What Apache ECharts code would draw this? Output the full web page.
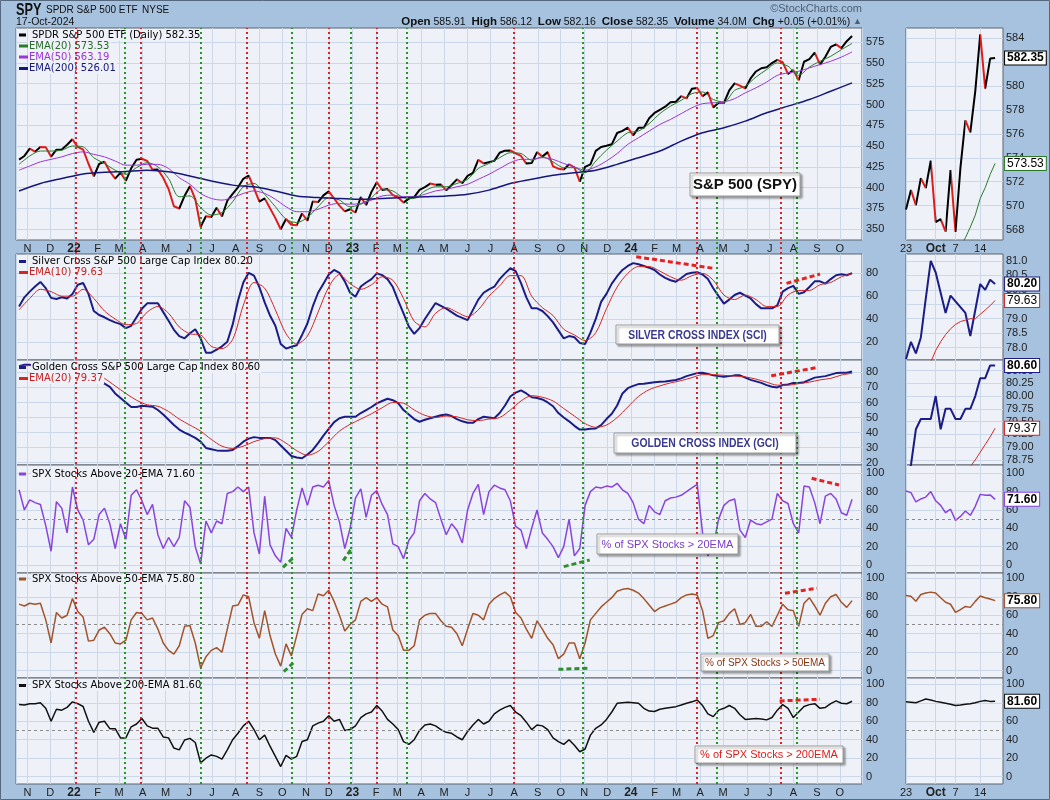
<!DOCTYPE html>
<html><head><meta charset="utf-8">
<script src="https://cdn.jsdelivr.net/npm/echarts@6/dist/echarts.min.js"></script>
<style>html,body{margin:0;padding:0;background:#a7c2de}#c{width:1050px;height:800px}</style>
</head><body><div id="c"></div>
<script>
// ---------- DATA (weekly samples, Thursdays from 2021-10-21) ----------
const weekStart = '2021-10-21';
const spy = [433.6,438.1,446.8,443.3,449.0,448.7,437.2,445.7,445.9,451.5,
458.1,448.9,445.6,428.7,413.7,428.5,431.1,419.4,410.9,418.0,
408.2,423.2,433.6,434.7,432.0,421.4,421.7,411.8,398.3,377.6,
374.9,390.1,401.7,386.3,352.9,365.5,364.7,375.8,365.3,384.2,
392.6,400.4,410.6,414.6,399.5,383.2,387.1,375.1,363.3,349.9,
362.3,355.3,354.8,368.9,360.2,383.2,382.7,390.7,395.5,386.9,
378.3,371.4,374.0,370.1,388.7,379.1,394.9,406.6,397.1,398.3,
390.9,388.1,382.0,386.8,388.6,397.3,400.7,404.9,403.4,403.9,
396.7,403.1,409.9,405.5,414.2,417.8,433.4,429.1,430.7,432.2,
442.0,444.5,444.8,441.2,438.1,428.9,429.5,442.7,437.3,442.7,
425.6,422.8,421.8,427.9,424.4,407.1,425.0,428.0,444.2,448.9,
450.3,452.1,465.7,468.3,472.2,462.9,471.9,472.0,483.4,489.8,
493.6,497.3,502.7,503.3,510.0,507.4,518.9,519.8,509.9,514.7,
496.4,502.2,501.8,516.9,525.4,522.6,519.3,531.3,539.7,543.6,
544.7,549.8,553.6,551.0,536.7,541.3,529.1,551.4,554.5,562.3,
547.9,557.4,569.2,572.3,567.8,576.1,582.35];
// EMA lines sampled every 2 weeks (ema200 every 4 weeks)
const ema20 = [428,438,444,444,445,450,449,436,429,421,416,424,430,425,411,389,390,376,367,370,383,401,405,392,377,362,358,364,377,388,385,377,380,388,398,396,388,387,396,401,401,405,410,423,429,436,442,441,433,437,431,424,424,418,432,445,456,466,468,477,489,498,505,513,515,506,503,517,522,533,542,550,546,535,545,552,558,566,573.5];
const ema50 = [421,426,431,434,437,441,443,440,437,432,427,427,428,428,423,412,404,393,387,385,388,393,396,393,386,377,371,371,374,379,381,380,381,385,390,391,389,389,392,396,398,401,404,410,416,423,430,434,434,436,434,429,425,421,425,432,441,452,460,468,476,482,489,496,501,502,503,507,514,520,527,535,538,540,544,548,552,557,563.2];
const ema200 = [396,405,411,416.5,418.5,419.5,421,419,414,408,403,401,396,390,388,387,386,387,388,389,390,392,397,405,410,415,418,421,428,436,444,456,466,472,480,490,498,506,516,526];
const sci = [51,59,64,68.5,72.5,67,58.5,57.5,59,58,
62,70,71.5,62,47,43.5,41.5,39,37,35.5,
32,34,41.5,49,53.7,53.7,53.7,46,38.5,30.5,
25,23,27.5,31,23,10.4,10.4,13,16,20,
35,56,72,80.5,78,68,54.5,43,34,18,
14,15.6,17,26,36,51,63,71,79,83,
80.5,73,63,59.5,68.5,72,75,80,78.5,75,
68,56,45,33.2,27,32,40,47,54,51.5,
49,46,43,41,39,48,57,63,66,68.3,
75,80,84.5,82,71.5,59,49.3,49.3,47,42.5,
37,30,23,25,24,19,18,28,40,55,
62,71,77.5,83,86.5,89,88,86.5,85,83,
79,76,74,72.6,76,79.5,80.5,81,79,75,
67,60,53.5,57,61,63,60.5,58,53,49.3,
49.3,49.3,52,64,67,69,62,63.5,68,73,
73,71,75,78.4,79.2,78.4,80.2];
const sciEma10 = [48,58,66,64,60,60,66,58,47,40,35,36,46,51,45,33,27,26,16,14,22,52,72,67,48,27,18,25,46,68,79,71,66,70,77,74,58,38,33,45,50,46,42,48,60,69,78,78,60,50,43,31,26,21,28,49,68,80,86,86,82,77,74,78,80,74,61,57,61,57,51,51,61,65,65,70,72,77,79.63];
const gci = [84,85,85,84,84,83,82,82,83,83,
83,82,81,79,77,75,72.5,70.4,66,63,
60,57,57,57.8,57.5,57.2,55,52,48.5,45,
42,40,38.4,36.5,34,29.8,29,28.2,28,28,
28.5,31,34,36,37,36.5,36.5,36.5,35,31.5,
28,24.5,23.5,23,25.5,28.5,33,38,42.5,47,
49.5,50.5,50.5,50.5,53,55,57,59.4,61,62.5,
61.5,59.5,55,52,49,47.2,48.5,49.5,50.5,51.5,
52,51,49,47.5,46.5,46.5,49,50.5,50,49.5,
53,58,64,66.5,68,66,63.5,63,62,60,
57.5,53,50,47.5,44.5,42,42,42.5,42.8,45,
49,52.5,58,66,69.5,71,72.2,72.5,73,73.5,
73.8,74,74.5,74.9,76,77.5,78.5,79.5,79.7,79,
78,77.5,77,77.5,78,78,76.5,75,74,73,
71.5,70.5,70,71.6,72,73,73,73.5,75,76.5,
77,77.5,78.5,79.5,79.8,79.8,80.6];
const gciEma20 = [84,84.5,84.5,83.5,83,83,82,79.5,76,71,66,61.5,58.5,57.5,54,49,45,41,35.5,31,29.5,31,34,36,36.5,33,28,25,27.5,34,41,45.5,49,52.5,56.5,60,59.5,55,51.5,50,51,50.5,48.5,48,49,50,55,61,64.5,63.5,61,56,51,46,43.5,45,50,57,64,68.5,71,73,74.5,76.5,78.5,78.5,78,77.5,77,75.5,73.5,71.5,71.5,72.5,73.5,75,76,78.2,79.37];
const pct20 = [82,60,71,68,66,43,15,69,62,35,
85,60,49,22,28,55,62,45,18,45,
28,76,82,70,55,66,33,18,30,20,
30,70,63,20,1,48,35,48,45,78,
80,85,80,85,35,12,75,22,10,3,
40,30,60,84,65,85,87,85,92,65,
47,18,40,73,83,52,76,81,66,55,
23,20,7,27,35,70,78,72,68,50,
33,45,38,24,60,78,88,55,80,87,
84,82,70,42,38,18,40,60,35,28,
20,8,20,50,10,18,65,80,85,84,
86,85,89,82,78,68,50,45,65,58,
55,70,73,74,76,80,84,88,35,10,
20,50,65,70,72,38,30,49,45,44,
47,50,78,70,67,45,35,86,85,68,
45,75,78,72,57,54.2,71.6];
const pct50 = [72,70,73,72,73,55,30,63,57,60,
78,64,58,32,33,44,47,40,30,29,
33,55,63,62,55,57,45,30,22,18,
27,48,49,30,3,15,22,25,20,45,
70,71,82,80,52,35,65,38,18,5,
29,16,38,61,67,65,83,81,87,75,
60,43,50,55,75,79,75,79,72,69,
44,38,22,22,27,55,60,62,62,54,
48,47,40,27,45,62,60,55,72,78,
82,85,80,63,57,45,35,54,45,35,
28,13,18,30,30,13,30,55,62,69,
74,79,86,88,89,87,84,78,71,64,
68,70,72,74,79,82,83,82,65,35,
38,52,54,62,67,50,52,61,48,48,
53,48,60,72,66,65,48,73,79,70,
60,73,80,82.5,74,68.5,75.8];
const pct200 = [78,77.5,79,79,80,74,60,73,72,75,
81,79,76,60,48,59,60,52,52,42,
42,54,57,63,55,52.5,52.4,43,42,31,
29,39.7,41.5,37,15,20,23.5,22,19,29,
40,47,55,60,51,40,45,33,22,11,
23,19,22,38,40,55,58,60,66,60,
62,50,51,55,64,68,70,77,71,62,
57,51,38,35,40,50,56,57,55,51,
48,47,43,40,49,56,62,57,60,68,
72,75,77,70,66,59,51,56,55,51,
42,38,35,40,34,27,30,45,52.4,56,
62,70,79.4,80,80.5,80,79.4,74,71,70.5,
73,74,75,75.8,77.5,79.4,81,83,77,68,
65,72,74,77,74,67,62,62.5,63,62.5,
61.5,64,72,78,74,64,70,76,78,79,
74,75,79,82,79.5,79,81.6];

// ---------- small right panels: daily, 2024-09-23 .. 2024-10-17 ----------
const smallDays = ['09-23','09-24','09-25','09-26','09-27','09-30','10-01','10-02','10-03','10-04','10-07','10-08','10-09','10-10','10-11','10-14','10-15','10-16','10-17'];
const smallSpy = [569.67,571.30,570.04,572.30,571.47,573.76,568.62,568.86,567.82,572.98,567.80,573.17,577.14,576.13,579.58,584.32,579.78,582.30,582.35];
const smallEma20 = [562.0,562.9,563.6,564.4,565.0,565.4,565.6,565.8,565.9,566.1,566.2,566.6,567.3,568.2,569.2,570.6,571.5,572.6,573.53];
const smallSci = [77.6,78.2,77.8,78.35,79.7,81.0,80.6,79.9,79.2,79.8,79.6,79.4,79.2,78.4,79.3,80.2,80.0,80.35,80.2];
const smallSciEma10 = [76.3,76.6,76.8,77.1,77.3,77.5,77.9,78.2,78.45,78.65,78.8,78.9,78.95,79.0,79.0,79.15,79.3,79.45,79.63];
const smallGci = [78.3,78.65,79.35,79.55,79.55,79.55,80.0,79.35,79.75,79.75,79.55,79.55,79.75,79.75,80.0,80.35,80.35,80.6,80.6];
const smallGciEma20 = [77.6,77.7,77.8,77.9,78.0,78.05,78.1,78.15,78.2,78.25,78.3,78.4,78.5,78.62,78.75,78.9,79.05,79.2,79.37];
const smallPct20 = [80.6,78.9,68.7,72,74,80,70,65,57,60.8,48.7,53,58.9,54.2,64,77,76,76.4,71.6];
const smallPct50 = [81.4,80.6,75.2,82.5,84,85,84,79,74,71.9,63,66,69.5,68.5,75,80.8,79,77.5,75.8];
const smallPct200 = [81,80.5,80,82,84,83,81.5,80.5,79.5,78.5,77,77.5,78.5,79,80,81.5,82.5,81.5,81.6];
const smallTickIdx = [0,6,10,15];
const smallTickText = ['23','Oct','7','14'];

// ---------- signal lines and trendlines ----------
const redSignals = ['2022-01-03','2022-03-29','2022-08-16','2022-12-01','2023-02-02','2023-07-31','2024-03-28','2024-07-15'];
const greenSignals = ['2022-03-08','2022-06-16','2022-10-13','2022-12-30','2023-03-13','2023-10-30','2024-04-22','2024-08-05'];
const sciRedTrends = [[['2024-01-08',94.6],['2024-04-19',84.4]],[['2024-07-23',71.2],['2024-09-05',79.4]]];
const gciRedTrends = [[['2024-07-03',77.7],['2024-09-02',83.3]]];
const pct20GreenTrends = [[['2022-10-02',-2.5],['2022-10-17',9]],[['2022-12-20',4.7],['2023-01-01',19.3]],[['2023-10-05',-1.8],['2023-11-08',5.5]]];
const pct20RedTrends = [[['2024-08-25',94.5],['2024-09-30',87.2]]];
const pct50GreenTrends = [[['2022-10-03',-1.1],['2022-10-17',9.7]],[['2023-09-28',1.5],['2023-11-05',2.6]]];
const pct50RedTrends = [[['2024-07-21',83.8],['2024-09-01',89.2]]];
const pct200RedTrends = [[['2024-07-14',82],['2024-09-05',83.8]]];

// ---------- tick labels ----------
const spyTicks = [350,375,400,425,450,475,500,525,550,575];
const sciTicks = [20,40,60,80];
const gciTicks = [20,30,40,50,60,70,80];
const pctTicks = [0,20,40,60,80,100];
const smallSpyTicks = [568,570,572,574,576,578,580,582,584];
const smallSciTicks = [78.0,78.5,79.0,79.5,80.0,80.5,81.0];
const smallGciTicks = [78.75,79.00,79.25,79.50,79.75,80.00,80.25,80.50];
const monthLetters = ['J','F','M','A','M','J','J','A','S','O','N','D'];

// ---------- build ----------
const DAY = 86400000;
const T0 = Date.parse('2021-10-17'), T1 = Date.parse('2024-10-30');
const W0 = Date.parse(weekStart);
const wk = i => W0 + 7 * i * DAY;
const ts = s => Date.parse(s);
const FONT = '"Liberation Sans", Arial, sans-serif';
const gridColor = '#cad8e9';
const panelBg = '#eef2f8';

const panels = [
  {top:28, h:212, min:337, max:592, ticks:spyTicks, dec:0},
  {top:254, h:106, min:4, max:97, ticks:sciTicks, dec:0},
  {top:360, h:105, min:18.5, max:88.2, ticks:gciTicks, dec:0},
  {top:465, h:108, min:-8.7, max:109, ticks:pctTicks, dec:0},
  {top:573, h:105, min:-7.9, max:105.7, ticks:pctTicks, dec:0},
  {top:678, h:106, min:-7.9, max:106.8, ticks:pctTicks, dec:0}
];
const smallY = [
  {min:567.12, max:584.86, ticks:smallSpyTicks, dec:0},
  {min:77.57, max:81.24, ticks:smallSciTicks, dec:1},
  {min:78.65, max:80.706, ticks:smallGciTicks, dec:2},
  {min:-8.7, max:109, ticks:pctTicks, dec:0},
  {min:-7.9, max:105.7, ticks:pctTicks, dec:0},
  {min:-7.9, max:106.8, ticks:pctTicks, dec:0}
];

const grids = [], xAxes = [], yAxes = [];
panels.forEach((p, k) => {
  grids.push({left:16, top:p.top, width:846, height:p.h, show:true, backgroundColor:panelBg, borderColor:'#5c6470', borderWidth:1});
  xAxes.push({type:'time', gridIndex:k, min:T0, max:T1, splitNumber:36, minInterval:28*DAY, maxInterval:31*DAY,
    axisLine:{show:false}, axisTick:{show:false},
    axisLabel:{show:(k===0||k===5), margin:3, color:'#222', fontSize:11, fontFamily:FONT, showMinLabel:false, showMaxLabel:false,
      formatter: v => { const d = new Date(v); const m = d.getMonth(); return m === 0 ? '{y|' + String(d.getFullYear()).slice(2) + '}' : monthLetters[m]; },
      rich:{y:{fontWeight:'bold', fontSize:12, fontFamily:FONT, color:'#222'}}},
    splitLine:{show:true, lineStyle:{color:gridColor, width:1}}});
  yAxes.push({type:'value', gridIndex:k, position:'right', min:p.min, max:p.max,
    axisLine:{show:false}, axisTick:{show:false, customValues:p.ticks},
    axisLabel:{customValues:p.ticks, margin:4, color:'#222', fontSize:11, fontFamily:FONT, formatter: v => v.toFixed(p.dec)},
    splitLine:{show:true, lineStyle:{color:gridColor, width:1}}});
});
panels.forEach((p, k) => {
  const s = smallY[k];
  grids.push({left:906, top:p.top, width:97, height:p.h, show:true, backgroundColor:panelBg, borderColor:'#5c6470', borderWidth:1});
  xAxes.push({type:'value', gridIndex:6+k, min:0, max:19.6,
    axisLine:{show:false}, axisTick:{show:false, customValues:smallTickIdx},
    axisLabel:{show:(k===0||k===5), customValues:smallTickIdx, margin:3, color:'#222', fontSize:11, fontFamily:FONT,
      formatter: v => { const tx = smallTickText[smallTickIdx.indexOf(v)]; return tx === 'Oct' ? '{b|Oct}' : tx; },
      rich:{b:{fontWeight:'bold', fontSize:12, fontFamily:FONT, color:'#222'}}},
    splitLine:{show:true, lineStyle:{color:gridColor, width:1}}});
  yAxes.push({type:'value', gridIndex:6+k, position:'right', min:s.min, max:s.max,
    axisLine:{show:false}, axisTick:{show:false, customValues:s.ticks},
    axisLabel:{customValues:s.ticks, margin:3, color:'#222', fontSize:11, fontFamily:FONT, formatter: v => v.toFixed(s.dec)},
    splitLine:{show:true, lineStyle:{color:gridColor, width:1}}});
});
// overlay grid for vertical signal lines
grids.push({left:16, top:28, width:846, height:756, show:false});
xAxes.push({type:'time', gridIndex:12, min:T0, max:T1, show:false});
yAxes.push({type:'value', gridIndex:12, min:0, max:1, show:false});

const weekly = arr => arr.map((v, i) => [wk(i), v]);
const stepped = (arr, step) => arr.map((v, j) => [wk(j * step), v]);
const daily = arr => arr.map((v, i) => [i, v]);

function line(ax, data, color, width, extra) {
  const o = {type:'line', xAxisIndex:ax, yAxisIndex:ax, data, showSymbol:false, symbol:'none', animation:false, z:3,
    lineStyle:{width}, emphasis:{disabled:true}};
  if (color) { o.lineStyle.color = color; o.itemStyle = {color}; }
  return Object.assign(o, extra || {});
}
function trendItems(segs, color) {
  return segs.map(s => [{coord:[ts(s[0][0]), s[0][1]], lineStyle:{color, width:3, type:[5,3]}}, {coord:[ts(s[1][0]), s[1][1]]}]);
}
const halfLine = {yAxis:50, lineStyle:{color:'#8a8a8a', type:[3,3], width:1}};
function mk(items) { return {silent:true, symbol:['none','none'], label:{show:false}, animation:false, data:items}; }
function tag(border, bold) {
  return {show:true, distance:10, color:'#000', fontSize:12, fontWeight: bold ? 'bold' : 'normal', fontFamily:FONT,
    backgroundColor:'#fff', borderColor:border, borderWidth:1, padding:[1,2,0,2],
    formatter: p => p.value[1].toFixed(2)};
}
const RED = '#e42222', GREEN = '#2f8f2f';

const series = [
  line(0, weekly(spy), null, 2),                                          // 0
  line(0, stepped(ema20, 2), '#2a7a2a', 1, {smooth:0.3}),                 // 1
  line(0, stepped(ema50, 2), '#9a36d6', 1, {smooth:0.3}),                 // 2
  line(0, stepped(ema200, 4), '#16167c', 1.5, {smooth:0.3}),              // 3
  line(1, weekly(sci), '#1c1c86', 2, {markLine: mk(trendItems(sciRedTrends, RED))}),   // 4
  line(1, stepped(sciEma10, 2), '#d42626', 1, {smooth:0.3}),              // 5
  line(2, weekly(gci), '#1c1c86', 2, {markLine: mk(trendItems(gciRedTrends, RED))}),   // 6
  line(2, stepped(gciEma20, 2), '#d42626', 1, {smooth:0.3}),              // 7
  line(3, weekly(pct20), '#8a44de', 1.5, {markLine: mk([halfLine].concat(trendItems(pct20GreenTrends, GREEN), trendItems(pct20RedTrends, RED)))}), // 8
  line(4, weekly(pct50), '#a2532b', 1.5, {markLine: mk([halfLine].concat(trendItems(pct50GreenTrends, GREEN), trendItems(pct50RedTrends, RED)))}), // 9
  line(5, weekly(pct200), '#111111', 1.5, {markLine: mk([halfLine].concat(trendItems(pct200RedTrends, RED)))}), // 10
  line(6, daily(smallSpy), null, 2, {endLabel: tag('#000', true)}),       // 11
  line(6, daily(smallEma20), '#2a7a2a', 1, {endLabel: tag('#2a7a2a', false)}),
  line(7, daily(smallSci), '#1c1c86', 2, {endLabel: tag('#1c1c86', true)}),
  line(7, daily(smallSciEma10), '#d42626', 1, {endLabel: tag('#d42626', false)}),
  line(8, daily(smallGci), '#1c1c86', 2, {endLabel: tag('#1c1c86', true)}),
  line(8, daily(smallGciEma20), '#d42626', 1, {endLabel: tag('#d42626', false)}),
  line(9, daily(smallPct20), '#8a44de', 1.5, {endLabel: tag('#8a44de', true), markLine: mk([halfLine])}),
  line(10, daily(smallPct50), '#a2532b', 1.5, {endLabel: tag('#a2532b', true), markLine: mk([halfLine])}),
  line(11, daily(smallPct200), '#111111', 1.5, {endLabel: tag('#111', true), markLine: mk([halfLine])}),
  {type:'line', xAxisIndex:12, yAxisIndex:12, data:[[T0, -5]], showSymbol:false, symbol:'none', z:5, animation:false,
    lineStyle:{width:0},
    markLine: mk(redSignals.map(d => ({xAxis: ts(d), lineStyle:{color:'#e41e1e', type:[2,3], width:2}}))
      .concat(greenSignals.map(d => ({xAxis: ts(d), lineStyle:{color:'#1f9a1f', type:[2,3], width:2}}))))}
];

function downPieces(vals, xs) {
  const p = [];
  for (let i = 0; i < vals.length - 1; i++) if (vals[i + 1] < vals[i]) p.push({gte: xs[i], lte: xs[i + 1], color: '#e01b1b'});
  return p;
}

// ---------- graphics: header, legends, annotation boxes ----------
const LFONT = '10px "DejaVu Sans", Verdana, sans-serif';
function t(x, y, text, font, fill, align, z, extra, sx) {
  return {type:'text', x, y, z: z || 4, silent:true, scaleX: sx || 1,
    style: Object.assign({text, font, fill, align: align || 'left', verticalAlign:'middle', textAlign: align || 'left', textVerticalAlign:'middle'}, extra || {})};
}
function legend(y, markColor, text, textColor, first) {
  return [
    {type:'rect', z:4, silent:true, shape:{x:19, y:y - 1.5, width:first ? 7 : 9, height:3}, style:{fill:markColor}},
    t(first ? 31 : 28, y, text, LFONT, textColor, 'left', 4, {backgroundColor: panelBg, padding:[1,1,0,1]})
  ];
}
function box(x, y, w, h, text, font, fill, sx) {
  return [
    {type:'rect', z:6, silent:true, shape:{x, y, width:w, height:h},
      style:{fill:'#fff', stroke:'#9a9a9a', lineWidth:1, shadowBlur:2, shadowOffsetX:2, shadowOffsetY:2, shadowColor:'rgba(0,0,0,0.35)'}},
    t(x + w / 2, y + h / 2 + 0.5, text, font, fill, 'center', 7, null, sx)
  ];
}
const graphic = [].concat(
  [t(16, 10, 'SPY', 'bold 17px ' + FONT, '#111', 'left', 4, null, 0.75),
   t(46, 10, 'SPDR S&P 500 ETF', '10px ' + FONT, '#111'),
   t(142, 10, 'NYSE', '10px ' + FONT, '#111'),
   t(16, 22, '17-Oct-2024', '10.5px ' + FONT, '#111'),
   t(862, 9, '©StockCharts.com', '11px ' + FONT, '#4e5d70', 'right'),
   {type:'text', x:862, y:22, z:4, silent:true, style:{
     text:'{b|Open} 585.91  {b|High} 586.12  {b|Low} 582.16  {b|Close} 582.35  {b|Volume} 34.0M  {b|Chg} +0.05 (+0.01%) {g|▲}',
     font:'10.5px ' + FONT, fill:'#111', align:'right', verticalAlign:'middle', textAlign:'right', textVerticalAlign:'middle',
     rich:{b:{fontWeight:'bold', fontSize:11.5, fontFamily:FONT, fill:'#111', color:'#111'}, g:{fontSize:9, fill:'#4e5d70', color:'#4e5d70'}}}}],
  legend(35, '#000', 'SPDR S&P 500 ETF (Daily) 582.35', '#000', true),
  legend(46, '#2a7a2a', 'EMA(20) 573.53', '#2a6a2a'),
  legend(57, '#9a36d6', 'EMA(50) 563.19', '#9a36d6'),
  legend(68.5, '#16167c', 'EMA(200) 526.01', '#16167c'),
  legend(261.5, '#1c1c86', 'Silver Cross S&P 500 Large Cap Index 80.20', '#000', true),
  legend(272.5, '#d42626', 'EMA(10) 79.63', '#c82020'),
  legend(367.5, '#1c1c86', 'Golden Cross S&P 500 Large Cap Index 80.60', '#000', true),
  legend(378.5, '#d42626', 'EMA(20) 79.37', '#c82020'),
  legend(474, '#8a44de', 'SPX Stocks Above 20-EMA 71.60', '#000', true),
  legend(579, '#a2532b', 'SPX Stocks Above 50-EMA 75.80', '#000', true),
  legend(685.5, '#111', 'SPX Stocks Above 200-EMA 81.60', '#000', true),
  box(690, 173, 110, 23, 'S&P 500 (SPY)', 'bold 15px ' + FONT, '#111'),
  box(616, 325, 163, 19, 'SILVER CROSS INDEX (SCI)', 'bold 13px ' + FONT, '#3a3a90', 0.8),
  box(614, 433, 182, 20, 'GOLDEN CROSS INDEX (GCI)', 'bold 13px ' + FONT, '#3a3a90', 0.8),
  box(597, 534, 141, 20, '% of SPX Stocks > 20EMA', '11px ' + FONT, '#7b3cc8'),
  box(701, 654, 128, 17, '% of SPX Stocks > 50EMA', '10px ' + FONT, '#8a3414'),
  box(695, 746, 148, 17, '% of SPX Stocks > 200EMA', '11px ' + FONT, '#e01c1c'),
  [{type:'rect', z:10, silent:true, shape:{x:0.5, y:0.5, width:1049, height:799}, style:{fill:'none', stroke:'#56687e', lineWidth:1}}]
);

const chart = echarts.init(document.getElementById('c'), null, {renderer:'canvas'});
chart.setOption({
  backgroundColor:'#a7c2de',
  animation:false,
  grid: grids, xAxis: xAxes, yAxis: yAxes, series,
  visualMap: [
    {type:'piecewise', show:false, seriesIndex:0, dimension:0, pieces: downPieces(spy, spy.map((v, i) => wk(i))), outOfRange:{color:'#000'}},
    {type:'piecewise', show:false, seriesIndex:11, dimension:0, pieces: downPieces(smallSpy, smallSpy.map((v, i) => i)), outOfRange:{color:'#000'}}
  ],
  graphic
});
</script></body></html>
